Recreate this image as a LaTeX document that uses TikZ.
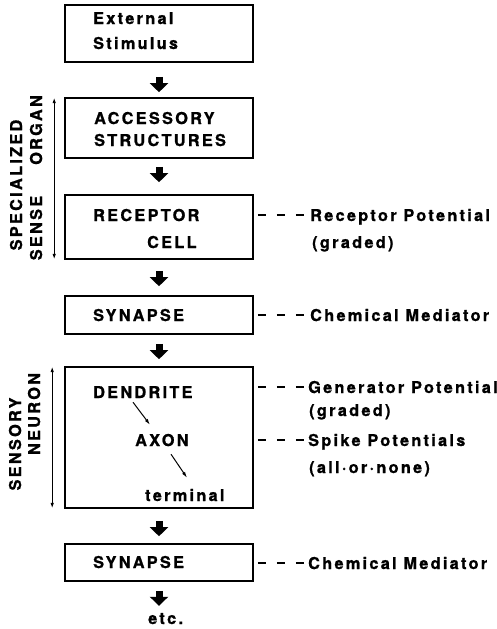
\documentclass[tikz,border=0pt]{standalone}
\usepackage{fontspec}
\setmainfont{TeX Gyre Heros}
\newfontfamily\labfont{TeX Gyre Heros}[LetterSpace=14, FakeBold=1]
\usetikzlibrary{arrows.meta,calc}
\begin{document}
\begin{tikzpicture}[x=1pt,y=-1pt,
  box/.style={draw, line width=1.6pt, minimum width=188pt, inner sep=0pt},
  txt/.style={font=\labfont\fontsize{16.3}{19}\bfseries, inner sep=0pt, text height=12pt, text depth=0pt, anchor=west},
  rtxt/.style={txt, anchor=center, rotate=90},
  blockarr/.style={line width=7pt, -{Triangle[width=18pt,length=9pt]}},
  thinarr/.style={line width=1pt, -{Latex[length=6pt,width=3.5pt]}},
  dblarr/.style={line width=1.2pt, {Latex[length=6pt,width=3.5pt]}-{Latex[length=6pt,width=3.5pt]}},
  dashlink/.style={line width=1.4pt, dash pattern=on 8pt off 11pt, shorten <=4pt, shorten >=2pt}]
\useasboundingbox (0,0) rectangle (497,629);

% boxes
\node[box, minimum height=57pt]  (b1) at (159,33.5) {};
\node[box, minimum height=60pt]  (b2) at (159,128) {};
\node[box, minimum height=64pt]  (b3) at (159,227) {};
\node[box, minimum height=38pt]  (b4) at (159,315) {};
\node[box, minimum height=141pt] (b5) at (159,437.5) {};
\node[box, minimum height=37pt]  (b6) at (159,562.5) {};

% box texts
\node[txt] (t1a) at (93,18) {External};
\node[txt] (t1b) at (93,43) {Stimulus};
\node[txt] (t2a) at (94,118) {ACCESSORY};
\node[txt] (t2b) at (94,140) {STRUCTURES};
\node[txt] (t3a) at (93,215) {RECEPTOR};
\node[txt] (t3b) at (147,242) {CELL};
\node[txt] (t4) at (93,315) {SYNAPSE};
\node[txt] (t5a) at (93,392) {DENDRITE};
\node[txt] (t5b) at (135,440) {AXON};
\node[txt] (t5c) at (145,495) {terminal};
\node[txt] (t6) at (93,562) {SYNAPSE};
\node[txt] (etc) at (148,618) {etc.};

% block arrows
\draw[blockarr, shorten <=14pt, shorten >=5pt] (b1) -- (b2);
\draw[blockarr, shorten <=8pt, shorten >=12pt] (b2) -- (b3);
\draw[blockarr, shorten <=11pt, shorten >=9pt] (b3) -- (b4);
\draw[blockarr, shorten <=9pt, shorten >=7pt] (b4) -- (b5);
\draw[blockarr, shorten <=12pt, shorten >=7pt] (b5) -- (b6);
\draw[blockarr, shorten <=9pt, shorten >=6pt] (b6.south) -- (b6.south |- etc.north);

% inner arrows
\draw[thinarr] ([xshift=40pt,yshift=-4pt]t5a.south west) -- ([xshift=15pt,yshift=9pt]t5b.north west);
\draw[thinarr] ([xshift=36pt,yshift=-8pt]t5b.south west) -- ([xshift=42pt,yshift=11pt]t5c.north west);

% left brackets
\draw[dblarr] ([xshift=-10pt]b2.north west) -- ([xshift=-10pt]b3.south west);
\draw[dblarr] ([xshift=-12pt]b5.north west) -- ([xshift=-12pt]b5.south west);
\node[rtxt] (spec) at (16,185) {SPECIALIZED};
\node[rtxt] (organ) at (36,130) {ORGAN};
\node[rtxt] (sense) at (36,228) {SENSE};
\node[rtxt] (sensory) at (15,444) {SENSORY};
\node[rtxt] (neuron) at (34,414) {NEURON};

% right labels
\node[txt] (r3a) at (310,215) {Receptor Potential};
\node[txt] (r3b) at (312,242) {(graded)};
\node[txt] (r4) at (310,315) {Chemical Mediator};
\node[txt] (r5a) at (308,387) {Generator Potential};
\node[txt] (r5b) at (309,410) {(graded)};
\node[txt] (r5c) at (308,440) {Spike Potentials};
\node[txt] (r5d) at (309,467) {(all·or·none)};
\node[txt] (r6) at (308,563) {Chemical Mediator};

\draw[dashlink] (b3.east |- r3a.west) -- (r3a.west);
\draw[dashlink] (b4.east |- r4.west) -- (r4.west);
\draw[dashlink] (b5.east |- r5a.west) -- (r5a.west);
\draw[dashlink] (b5.east |- r5c.west) -- (r5c.west);
\draw[dashlink] (b6.east |- r6.west) -- (r6.west);
\end{tikzpicture}
\end{document}
